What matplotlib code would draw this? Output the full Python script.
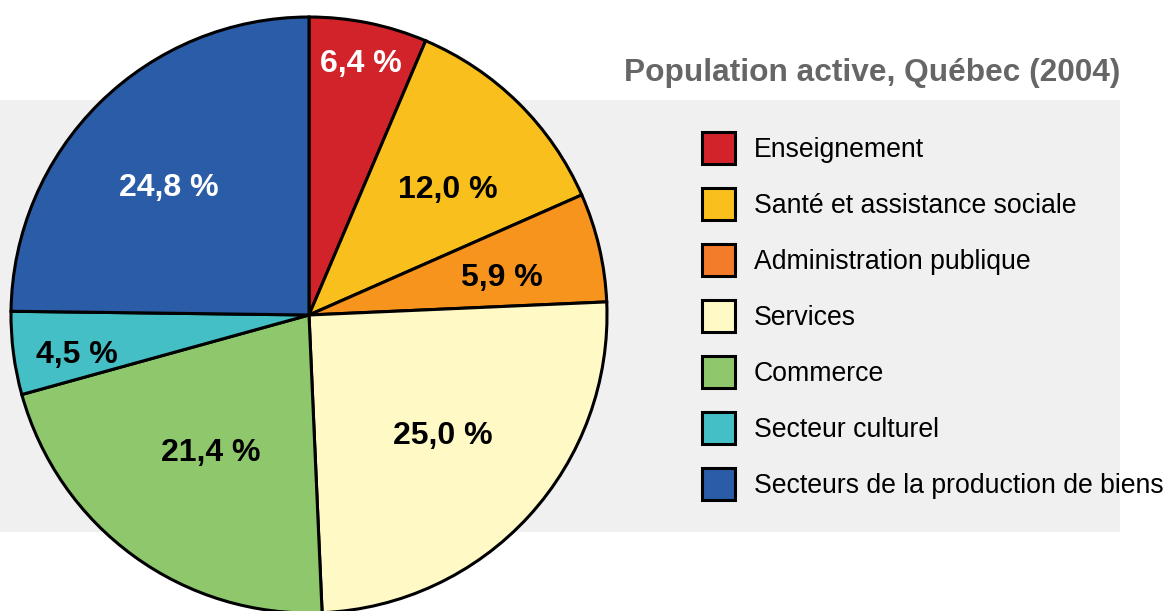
import numpy as np
import matplotlib.pyplot as plt
from matplotlib.patches import Rectangle

plt.rcParams['font.family'] = ['Liberation Sans', 'DejaVu Sans']

# ----------------------
# Data
# ----------------------
categories = [
    "Enseignement",
    "Santé et assistance sociale",
    "Administration publique",
    "Services",
    "Commerce",
    "Secteur culturel",
    "Secteurs de la production de biens",
]
shares = [6.4, 12.0, 5.9, 25.0, 21.4, 4.5, 24.8]
pie_labels = ["6,4 %", "12,0 %", "5,9 %", "25,0 %", "21,4 %", "4,5 %", "24,8 %"]

# ----------------------
# Style
# ----------------------
slice_colors = ["#D2232A", "#F9BF1C", "#F7941D", "#FFF9C6", "#8EC76C", "#45BFC6", "#2A5CA8"]
legend_colors = ["#D2232A", "#F9BF1C", "#F47B2A", "#FFF9C6", "#8EC76C", "#45BFC6", "#2A5CA8"]
label_colors = ["white", "black", "black", "black", "black", "black", "white"]
label_radius = [0.87, 0.634, 0.66, 0.60, 0.56, 0.79, 0.641]
label_turn = [0.0, -2.8, -1.4, 1.1, 0.0, 1.6, 2.5]   # degrees off the slice middle

W, H = 1174, 611
fig = plt.figure(figsize=(W / 100, H / 100), dpi=100)
ax = fig.add_axes([0, 0, 1, 1])

# gray band behind everything (pixel coords, y measured from top)
ax.add_patch(Rectangle((0, H - 532), 1120, 432, facecolor="#F0F0F0", edgecolor="none", zorder=0))

cx, cy, r = 309, H - 315, 298
wedges, _ = ax.pie(shares, colors=slice_colors, startangle=90, counterclock=False,
                   center=(cx, cy), radius=r, frame=True,
                   wedgeprops=dict(edgecolor="black", linewidth=2.2))
for w in wedges:
    w.set_zorder(2)
ax.set_xlim(0, W)
ax.set_ylim(0, H)
ax.set_aspect('equal')
ax.axis('off')

# slice labels: baseline placed so the digits are centred on the target point
for w, lab, col, rad, turn in zip(wedges, pie_labels, label_colors, label_radius, label_turn):
    mid = np.deg2rad((w.theta1 + w.theta2) / 2 + turn)
    ax.text(cx + rad * r * np.cos(mid), cy + rad * r * np.sin(mid) - 11, lab,
            ha="center", va="baseline", fontsize=23, fontweight="bold", color=col, zorder=3)

# title
ax.text(1120, H - 81, "Population active, Québec (2004)", ha="right", va="baseline",
        fontsize=22.8, fontweight="bold", color="#666666", zorder=3)

# legend
for i, (name, col) in enumerate(zip(categories, legend_colors)):
    yc = H - (148 + 56 * i)
    ax.add_patch(Rectangle((702, yc - 16), 33, 32, facecolor=col, edgecolor="black",
                           linewidth=2.2, zorder=3))
    ax.text(754, yc - 9, name, ha="left", va="baseline", fontsize=19.2, color="black", zorder=3)

fig.savefig("out.png", dpi=100)
